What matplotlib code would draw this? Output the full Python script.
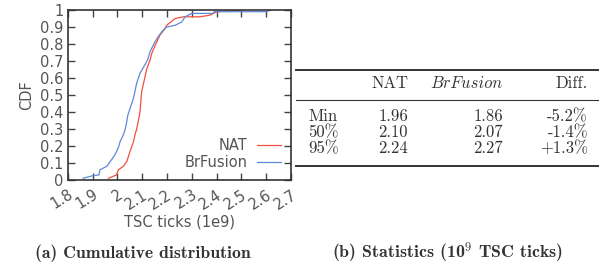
import matplotlib
matplotlib.use("Agg")
import matplotlib.pyplot as plt
from matplotlib.lines import Line2D
import numpy as np

# ---- data ----
nat_x = [1.964, 1.997, 2.004, 2.024, 2.038, 2.051, 2.065, 2.071, 2.078, 2.085, 2.089,
         2.092, 2.098, 2.109, 2.118, 2.132, 2.139, 2.152, 2.172, 2.192, 2.199, 2.233,
         2.266, 2.333, 2.374, 2.40, 2.507]
nat_y = [0.01, 0.03, 0.06, 0.08, 0.108, 0.167, 0.225, 0.265, 0.30, 0.35, 0.38,
         0.41, 0.52, 0.59, 0.65, 0.706, 0.745, 0.79, 0.853, 0.89, 0.91, 0.95,
         0.96, 0.96, 0.97, 0.99, 1.0]
brf_x = [1.862, 1.897, 1.926, 1.930, 1.957, 1.977, 1.991, 2.004, 2.011, 2.024, 2.031,
         2.038, 2.042, 2.051, 2.065, 2.078, 2.092, 2.112, 2.122, 2.132, 2.152, 2.165,
         2.179, 2.199, 2.233, 2.26, 2.273, 2.30, 2.386, 2.39, 2.60, 2.62]
brf_y = [0.01, 0.024, 0.03, 0.06, 0.08, 0.12, 0.15, 0.19, 0.225, 0.265, 0.294,
         0.343, 0.38, 0.42, 0.48, 0.57, 0.63, 0.68, 0.706, 0.755, 0.814, 0.843,
         0.872, 0.90, 0.91, 0.93, 0.96, 0.98, 0.98, 0.99, 0.99, 1.0]

xticks = [1.8, 1.9, 2.0, 2.1, 2.2, 2.3, 2.4, 2.5, 2.6, 2.7]
xtick_labels = ["1.8", "1.9", "2", "2.1", "2.2", "2.3", "2.4", "2.5", "2.6", "2.7"]
yticks = [0, 0.1, 0.2, 0.3, 0.4, 0.5, 0.6, 0.7, 0.8, 0.9, 1.0]
ytick_labels = ["0", "0.1", "0.2", "0.3", "0.4", "0.5", "0.6", "0.7", "0.8", "0.9", "1"]

table_cols = ["", "NAT", "BrFusion", "Diff."]
table_rows = ["Min", "50%", "95%"]
table_nat = ["1.96", "2.10", "2.24"]
table_brf = ["1.86", "2.07", "2.27"]
table_diff = ["-5.2%", "-1.4%", "+1.3%"]

RED = "#f0503c"
BLUE = "#5f88d6"
GRAY = "#555555"

W, H = 599, 265
fig = plt.figure(figsize=(W / 100, H / 100), dpi=100)


def fx(px):
    return px / W


def fy(py):
    return 1 - py / H


ax = fig.add_axes([fx(67.7), fy(180), fx(291) - fx(67.7), fy(10) - fy(180)])
ax.plot(nat_x, nat_y, color=RED, lw=0.9, label="NAT")
ax.plot(brf_x, brf_y, color=BLUE, lw=0.9, label="BrFusion")
ax.set_xlim(1.8, 2.7)
ax.set_ylim(0, 1)
ax.set_xticks(xticks)
ax.set_xticklabels(xtick_labels, rotation=32, ha="right", va="top",
                   rotation_mode="anchor", fontsize=10.5, color=GRAY)
ax.set_yticks(yticks)
ax.set_yticklabels(ytick_labels, fontsize=10.5, color=GRAY)
ax.tick_params(direction="in", top=True, right=True, length=5, width=1,
               color="#444444", pad=3)
ax.tick_params(axis="x", pad=5)
for s in ax.spines.values():
    s.set_color("#333333")
    s.set_linewidth(1.2)
ax.set_xlabel("TSC ticks (1e9)", fontsize=10.5, color=GRAY, labelpad=2)
ax.set_ylabel("CDF", fontsize=10.5, color=GRAY, labelpad=4)
leg = ax.legend(loc="lower right", frameon=False, markerfirst=False,
                fontsize=10.5, handlelength=1.6, handletextpad=0.7,
                labelspacing=0.15, borderaxespad=0.3)
for t in leg.get_texts():
    t.set_color(GRAY)

# ---- table ----
plt.rcParams["mathtext.fontset"] = "cm"
tfs = 12
TC = "#333333"
fig.add_artist(Line2D([fx(296), fx(599)], [fy(70), fy(70)], color="#333333", lw=1.4))
fig.add_artist(Line2D([fx(296), fx(599)], [fy(100), fy(100)], color="#333333", lw=0.8))
fig.add_artist(Line2D([fx(296), fx(599)], [fy(166), fy(166)], color="#333333", lw=1.4))

col_right = [408, 503, 588]
hdr_y = 83
fig.text(fx(col_right[0]), fy(hdr_y), table_cols[1], ha="right", va="center",
         family="cmr10", fontsize=tfs, color=TC)
fig.text(fx(col_right[1]), fy(hdr_y), table_cols[2], ha="right", va="center",
         family="cmmi10", fontsize=tfs, color=TC)
fig.text(fx(col_right[2]), fy(hdr_y), table_cols[3], ha="right", va="center",
         family="cmr10", fontsize=tfs, color=TC)
row_y = [116.5, 132.5, 148.5]
for i, ry in enumerate(row_y):
    fig.text(fx(308), fy(ry), table_rows[i], ha="left", va="center",
             family="cmr10", fontsize=tfs, color=TC)
    fig.text(fx(col_right[0]), fy(ry), table_nat[i], ha="right", va="center",
             family="cmr10", fontsize=tfs, color=TC)
    fig.text(fx(col_right[1]), fy(ry), table_brf[i], ha="right", va="center",
             family="cmr10", fontsize=tfs, color=TC)
    fig.text(fx(col_right[2]), fy(ry), table_diff[i], ha="right", va="center",
             family="cmr10", fontsize=tfs, color=TC)

# ---- captions ----
fig.text(fx(142.5), fy(253), "(a) Cumulative distribution", ha="center", va="center",
         family="cmb10", fontsize=12.7, color="#333333")
fig.text(fx(448), fy(253), r"(b) Statistics (10$^9$ TSC ticks)", ha="center",
         va="center", family="cmb10", fontsize=12.9, color="#333333")

fig.savefig("out.png", dpi=100)
